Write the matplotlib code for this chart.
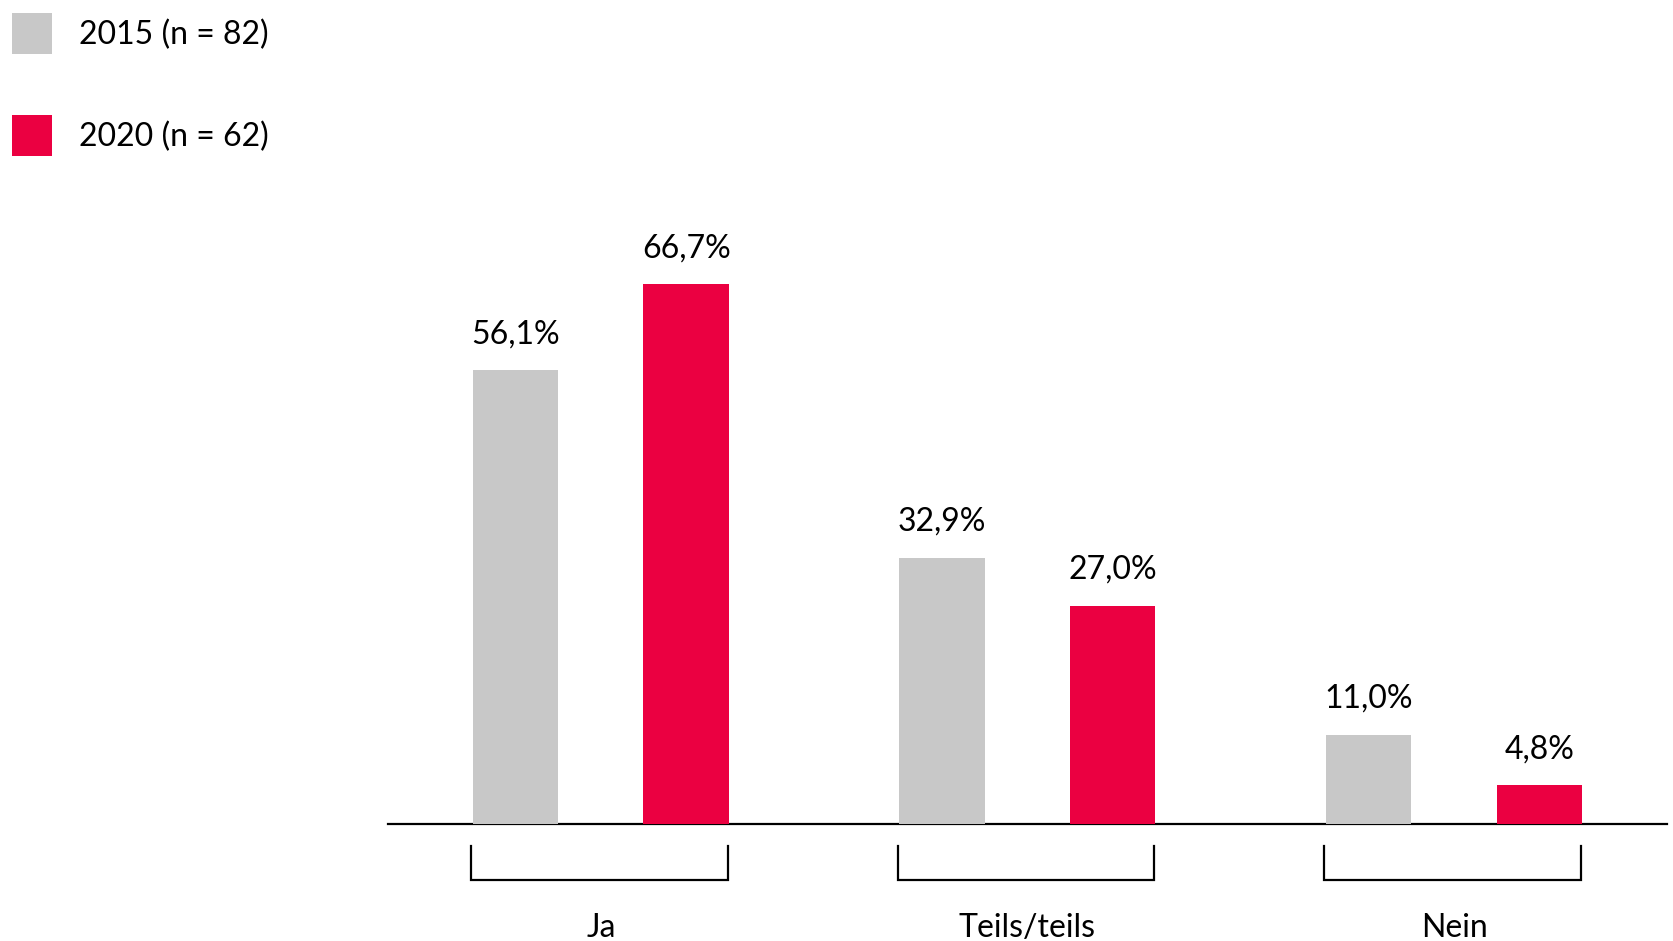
import matplotlib
matplotlib.use("Agg")
import matplotlib.pyplot as plt
import numpy as np

categories = ["Ja", "Teils/teils", "Nein"]
series_labels = ["2015 (n = 82)", "2020 (n = 62)"]
values_2015 = [56.1, 32.9, 11.0]
values_2020 = [66.7, 27.0, 4.8]
colors = ["#C8C8C8", "#EB0041"]

plt.rcParams['font.family'] = ['Lato', 'DejaVu Sans']

W, H = 1674, 941
fig = plt.figure(figsize=(W / 100, H / 100), dpi=100)
ax = fig.add_axes([387.5 / W, 117 / H, 1280 / W, 647.2 / H])

x = np.arange(len(categories))
off = 0.2
bw = 0.2
b1 = ax.bar(x - off, values_2015, width=bw, color=colors[0], label=series_labels[0], zorder=3)
b2 = ax.bar(x + off, values_2020, width=bw, color=colors[1], label=series_labels[1], zorder=3)

fs = 23
for bars, vals in ((b1, values_2015), (b2, values_2020)):
    for rect, v in zip(bars, vals):
        ax.annotate(f"{v:.1f}%".replace(".", ","),
                    (rect.get_x() + rect.get_width() / 2, rect.get_height()),
                    xytext=(0, 19.5), textcoords="offset points",
                    ha="center", va="baseline", fontsize=fs, color="black")

ax.set_xlim(-0.5, 2.5)
ax.set_ylim(0, 80)
for s in ["top", "right", "left"]:
    ax.spines[s].set_visible(False)
ax.spines["bottom"].set_linewidth(1.6)
ax.spines["bottom"].set_zorder(2)
ax.set_yticks([])
ax.set_xticks([])

# brackets below groups
for i, cat in enumerate(categories):
    bx = [i - 0.304, i - 0.304, i + 0.297, i + 0.297]
    by = [-2.72, -6.92, -6.92, -2.72]
    ax.plot(bx, by, color="black", lw=1.6, clip_on=False, solid_joinstyle="miter")
    ax.text(i, -12.86, cat, ha="center", va="center", fontsize=fs, color="black")

leg = fig.legend(handles=[b1, b2], loc="upper left",
                 bbox_to_anchor=(12 / W, 1 - 13 / H), borderaxespad=0, borderpad=0,
                 frameon=False, fontsize=fs, handlelength=1.25, handleheight=1.6,
                 labelspacing=1.9, handletextpad=0.85)

fig.savefig("out.png", dpi=100)
